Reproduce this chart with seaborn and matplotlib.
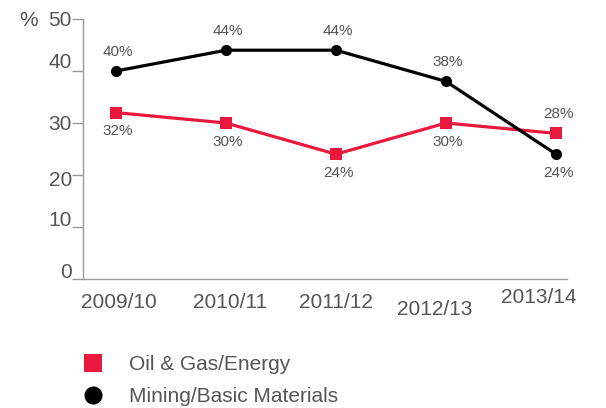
import matplotlib
matplotlib.use("Agg")
import matplotlib.pyplot as plt
from matplotlib.lines import Line2D
from matplotlib.transforms import ScaledTranslation
import pandas as pd
import seaborn as sns

years = ["2009/10", "2010/11", "2011/12", "2012/13", "2013/14"]
oil_gas = [32, 30, 24, 30, 28]
mining = [40, 44, 44, 38, 24]
series_names = ["Oil & Gas/Energy", "Mining/Basic Materials"]
y_ticks = [0, 10, 20, 30, 40, 50]

RED = "#E8193C"
BLACK = "#000000"
TEXT = "#555555"
AXIS = "#9a9a9a"

sns.set_theme(style="white")
plt.rcParams["font.family"] = ["Liberation Sans", "DejaVu Sans"]

df = pd.DataFrame({
    "idx": list(range(len(years))) * 2,
    "value": oil_gas + mining,
    "series": [series_names[0]] * len(years) + [series_names[1]] * len(years),
})

fig = plt.figure(figsize=(6.06, 4.08), dpi=100)
W, H = 606, 408
ax = fig.add_axes([83 / W, 1 - 279 / H, (567 - 83) / W, (279 - 19) / H])

sns.lineplot(
    data=df, x="idx", y="value", hue="series", style="series",
    palette={series_names[0]: RED, series_names[1]: BLACK},
    markers={series_names[0]: "s", series_names[1]: "o"},
    dashes=False, markersize=8, markeredgewidth=0, linewidth=2.3,
    legend=False, ax=ax,
)

ax.set_xlim(-0.3, 4.1)
ax.set_ylim(0, 50)
ax.set_xlabel("")
ax.set_ylabel("")

for s in ["top", "right"]:
    ax.spines[s].set_visible(False)
for s in ["left", "bottom"]:
    ax.spines[s].set_color(AXIS)
    ax.spines[s].set_linewidth(1.0)

# y axis: outward ticks with labels sitting at the tick ends
ax.set_yticks(y_ticks)
ax.set_yticklabels([str(v) for v in y_ticks])
ax.tick_params(axis="y", length=8, width=1.0, color=AXIS, pad=0,
               labelsize=15, labelcolor=TEXT, left=True)
y_shift = {0: 8, 10: 8.5, 20: -3, 30: 0, 40: 10.5, 50: 0}
for lab, v in zip(ax.get_yticklabels(), y_ticks):
    lab.set_transform(lab.get_transform() +
                      ScaledTranslation(0, y_shift[v] / 100, fig.dpi_scale_trans))

# x axis: category labels, no tick marks
ax.set_xticks(range(len(years)))
ax.set_xticklabels(years)
ax.tick_params(axis="x", length=0, pad=10, labelsize=15, labelcolor=TEXT)
x_shift = [(3, 0), (4, 0), (0, 0), (-11, -7), (-17, 5)]
for lab, (dx, dy) in zip(ax.get_xticklabels(), x_shift):
    lab.set_transform(lab.get_transform() +
                      ScaledTranslation(dx / 100, dy / 100, fig.dpi_scale_trans))

fig.text(29 / W, 1 - 20 / H, "%", fontsize=15, color=TEXT,
         ha="center", va="center")

# value labels
mining_pos = ["above", "above", "above", "above", "below"]
oil_pos = ["below", "below", "below", "below", "above"]
for vals, pos in [(mining, mining_pos), (oil_gas, oil_pos)]:
    for i, (v, p) in enumerate(zip(vals, pos)):
        dy = 14 if p == "above" else -13.5
        ax.annotate(f"{v}%", (i, v), xytext=(1.5, dy), textcoords="offset points",
                    ha="center", va="center", fontsize=11, color=TEXT)

handles = [
    Line2D([], [], linestyle="none", marker="s", markersize=13.5,
           markerfacecolor=RED, markeredgewidth=0),
    Line2D([], [], linestyle="none", marker="o", markersize=13,
           markerfacecolor=BLACK, markeredgewidth=0),
]
leg = fig.legend(handles, series_names, loc="upper left",
                 bbox_to_anchor=(83 / W, 1 - 355 / H), frameon=False,
                 fontsize=15, labelcolor=TEXT, handlelength=1.0,
                 handletextpad=1.2, labelspacing=0.62, borderpad=0,
                 borderaxespad=0)

fig.savefig("out.png", dpi=100)
